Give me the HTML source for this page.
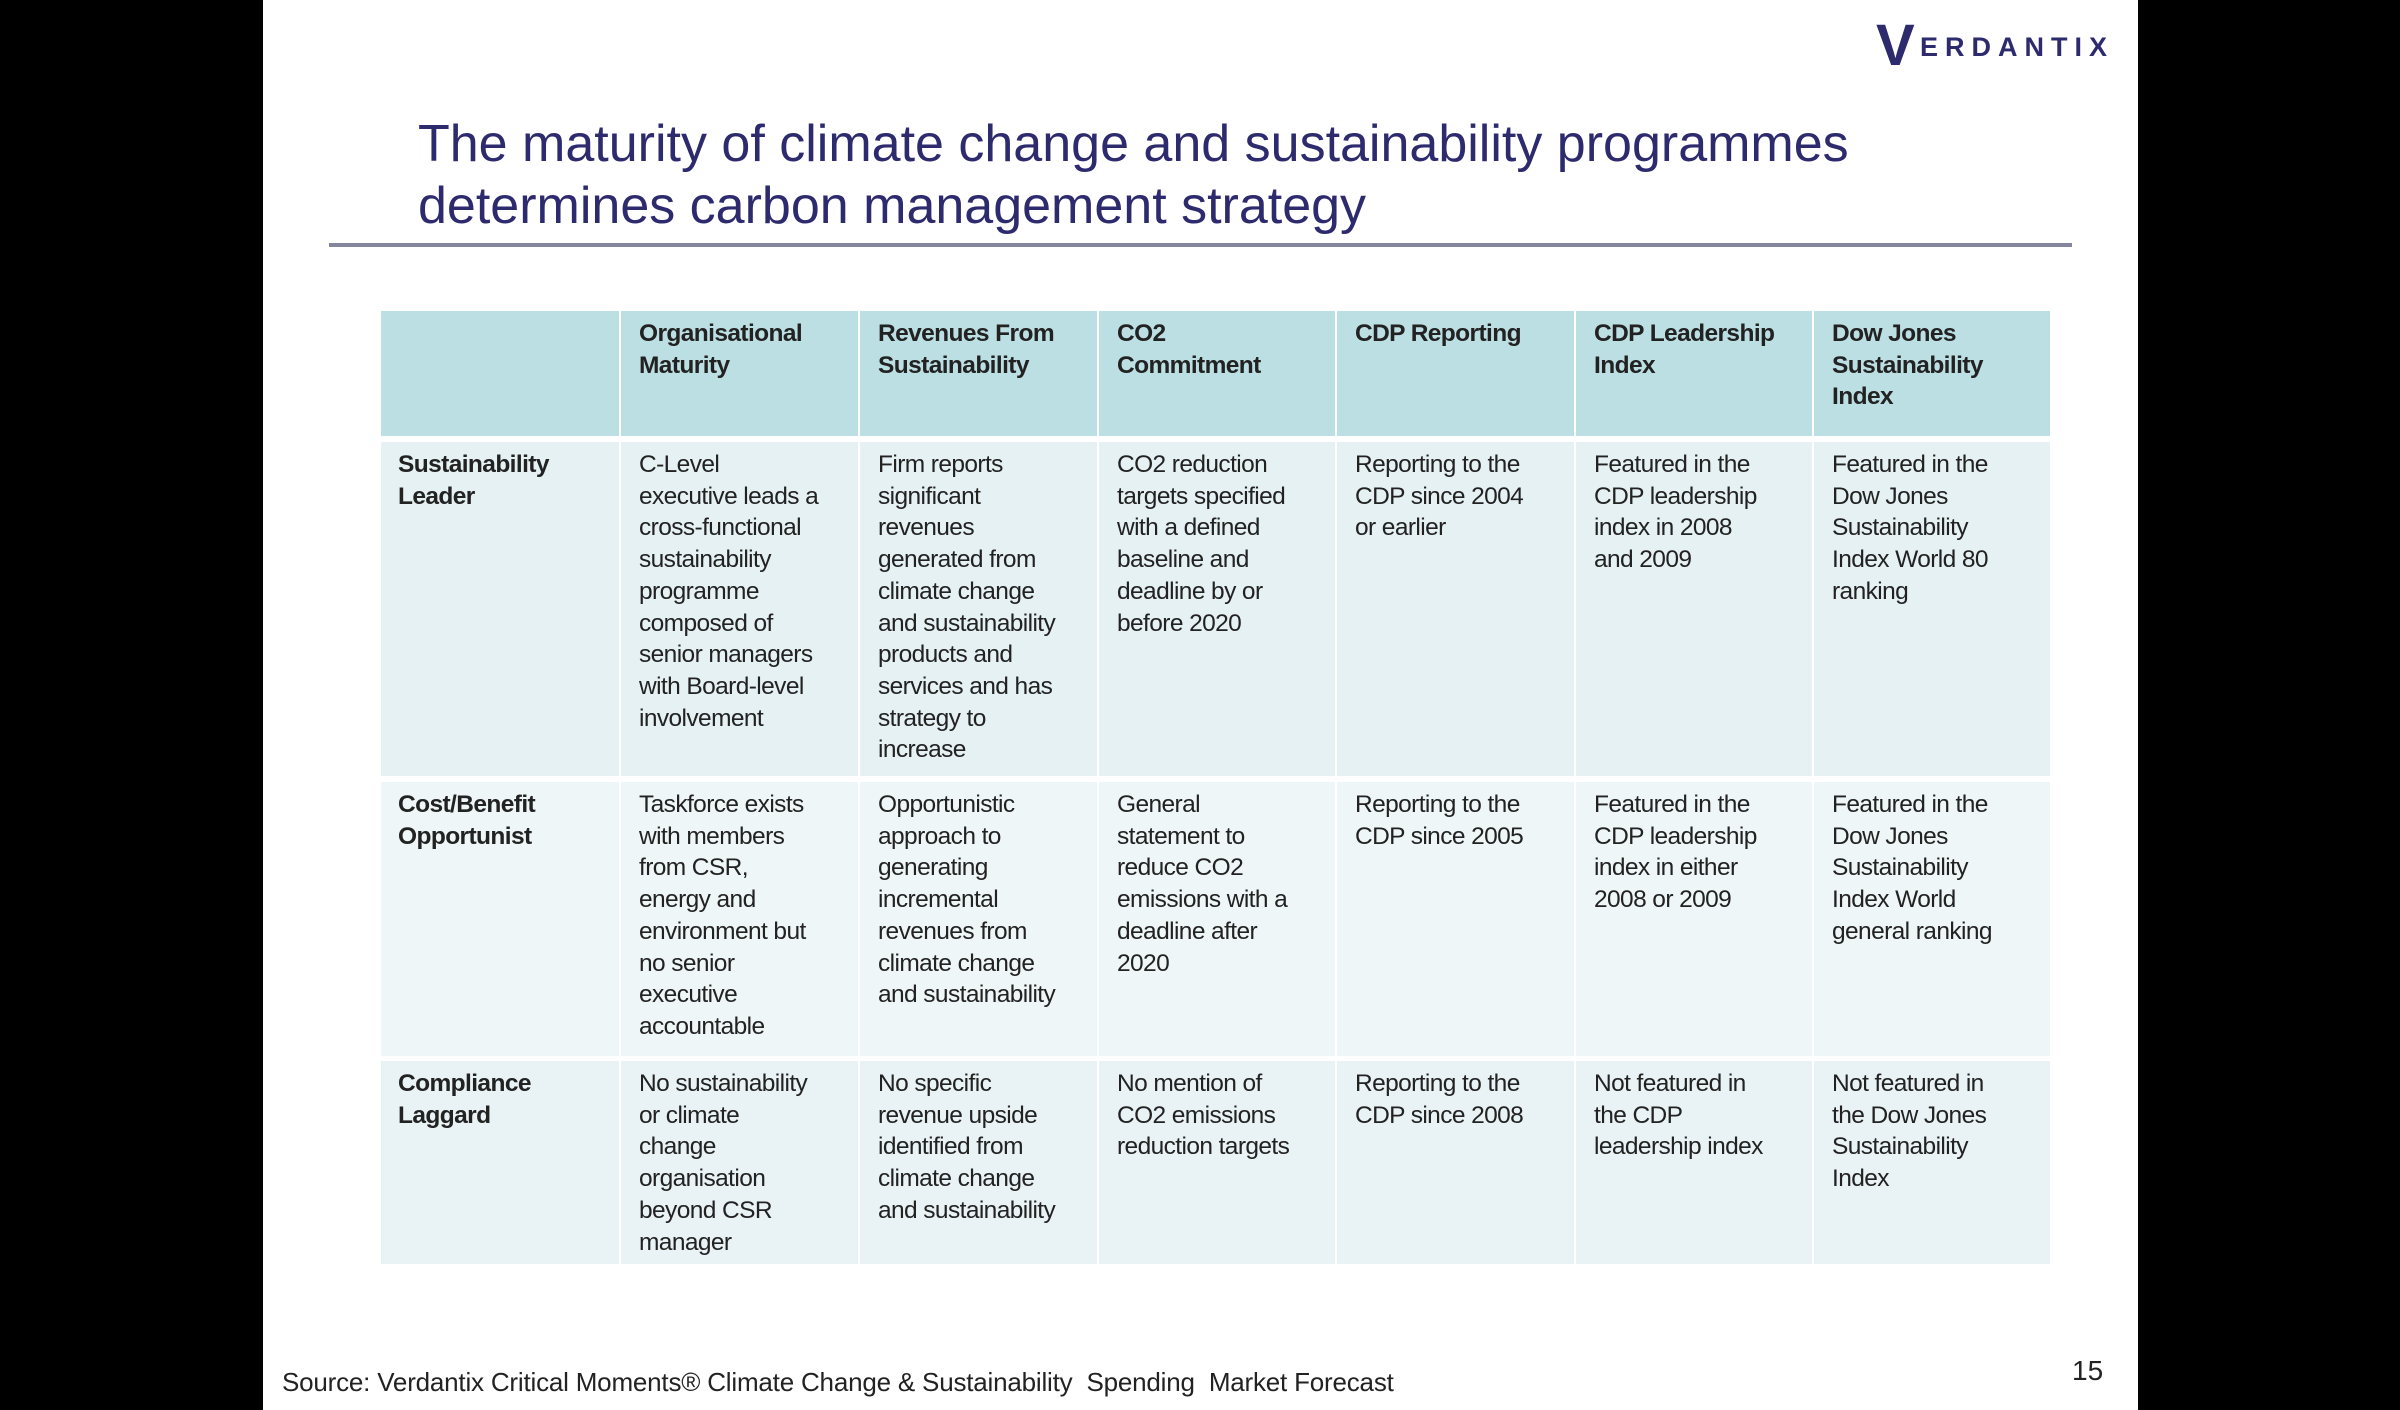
<!DOCTYPE html>
<html><head><meta charset="utf-8"><style>
body{margin:0;width:2400px;height:1410px;background:#000;overflow:hidden;font-family:"Liberation Sans",Arial,sans-serif}
.a{position:absolute}
.title{left:418px;top:113px;font-size:52px;line-height:62px;color:#2e2a6e;letter-spacing:0px}
.rule{left:329px;top:243px;width:1743px;height:4px;background:#85859e}
.c{position:absolute;box-sizing:border-box;padding:7px 10px 0 18px;font-size:24.5px;line-height:31.7px;color:#222;letter-spacing:-0.6px}
.h{background:#bcdfe4;font-weight:bold}
.r1{background:#e6f1f3}.r2{background:#eef6f7}.r3{background:#e9f2f4}
</style></head><body>
<div class="a" style="left:263px;top:0;width:1875px;height:1410px;background:#fff"></div>
<div class="a" style="left:1876px;top:18px;font-size:58px;color:#2e2a6e;font-weight:bold;line-height:56px">V</div>
<div class="a" style="left:1920px;top:32px;font-size:27px;color:#2e2a6e;font-weight:bold;letter-spacing:7px;line-height:30px">ERDANTIX</div>
<div class="a title">The maturity of climate change and sustainability programmes<br>determines carbon management strategy</div>
<div class="a rule"></div>
<div id="t"></div>
<div class="a" style="left:282px;top:1367px;font-size:26px;color:#222;letter-spacing:-0.2px">Source: Verdantix Critical Moments® Climate Change &amp; Sustainability&nbsp; Spending&nbsp; Market Forecast</div>
<div class="a" style="left:2072px;top:1355px;font-size:28px;color:#222">15</div>
<script>
var xs=[381,619,858,1097,1335,1574,1812,2050];
var ys=[[311,436,'h'],[442,776,'r1'],[782,1056,'r2'],[1061,1264,'r3']];
var d=[
["","Organisational<br>Maturity","Revenues From<br>Sustainability","CO2<br>Commitment","CDP Reporting","CDP Leadership<br>Index","Dow Jones<br>Sustainability<br>Index"],
["<b>Sustainability<br>Leader</b>","C-Level<br>executive leads a<br>cross-functional<br>sustainability<br>programme<br>composed of<br>senior managers<br>with Board-level<br>involvement","Firm reports<br>significant<br>revenues<br>generated from<br>climate change<br>and sustainability<br>products and<br>services and has<br>strategy to<br>increase","CO2 reduction<br>targets specified<br>with a defined<br>baseline and<br>deadline by or<br>before 2020","Reporting to the<br>CDP since 2004<br>or earlier","Featured in the<br>CDP leadership<br>index in 2008<br>and 2009","Featured in the<br>Dow Jones<br>Sustainability<br>Index World 80<br>ranking"],
["<b>Cost/Benefit<br>Opportunist</b>","Taskforce exists<br>with members<br>from CSR,<br>energy and<br>environment but<br>no senior<br>executive<br>accountable","Opportunistic<br>approach to<br>generating<br>incremental<br>revenues from<br>climate change<br>and sustainability","General<br>statement to<br>reduce CO2<br>emissions with a<br>deadline after<br>2020","Reporting to the<br>CDP since 2005","Featured in the<br>CDP leadership<br>index in either<br>2008 or 2009","Featured in the<br>Dow Jones<br>Sustainability<br>Index World<br>general ranking"],
["<b>Compliance<br>Laggard</b>","No sustainability<br>or climate<br>change<br>organisation<br>beyond CSR<br>manager","No specific<br>revenue upside<br>identified from<br>climate change<br>and sustainability","No mention of<br>CO2 emissions<br>reduction targets","Reporting to the<br>CDP since 2008","Not featured in<br>the CDP<br>leadership index","Not featured in<br>the Dow Jones<br>Sustainability<br>Index"]];
var h='';
for(var r=0;r<4;r++)for(var c=0;c<7;c++){
 var x=xs[c]+(c?2:0),w=xs[c+1]-x;
 h+='<div class="c '+ys[r][2]+'" style="left:'+x+'px;top:'+ys[r][0]+'px;width:'+w+'px;height:'+(ys[r][1]-ys[r][0])+'px;'+(c==0?'padding-left:17px;':'')+'">'+d[r][c]+'</div>';
}
document.getElementById('t').innerHTML=h;
</script>
</body></html>
